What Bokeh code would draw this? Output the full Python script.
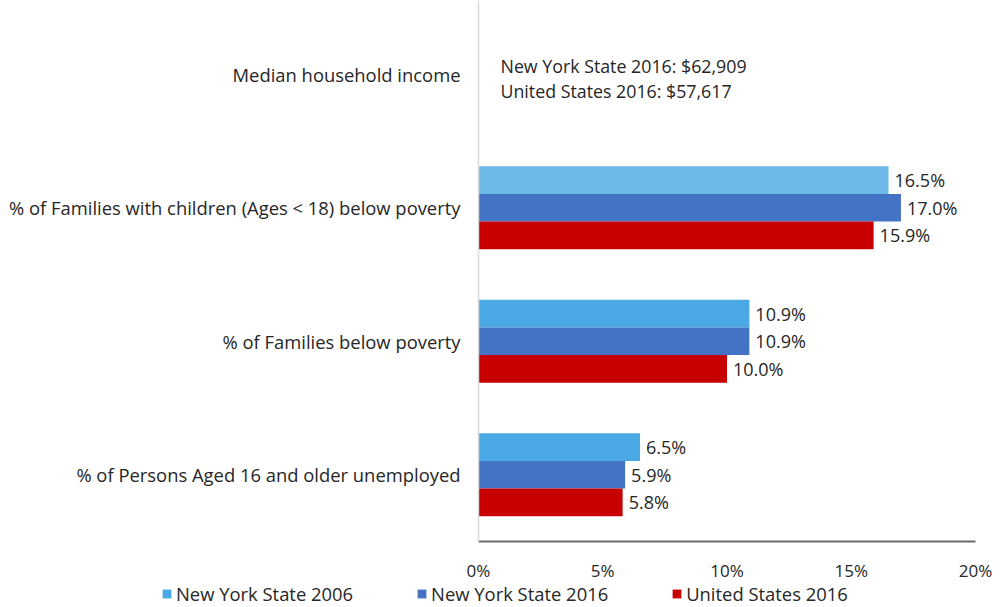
from bokeh.plotting import figure
from bokeh.models import (ColumnDataSource, Legend, LegendItem, FixedTicker,
                          CustomJSTickFormatter, Range1d)
from bokeh.core.properties import value
from bokeh.embed import file_html
from bokeh.resources import INLINE

# ---------------- data ----------------
categories_top_to_bottom = [
    "Median household income",
    "% of Families with children (Ages < 18) below poverty",
    "% of Families below poverty",
    "% of Persons Aged 16 and older unemployed",
]
bar_categories = [
    "% of Families with children (Ages < 18) below poverty",
    "% of Families below poverty",
    "% of Persons Aged 16 and older unemployed",
]
series_names = ["New York State 2006", "New York State 2016", "United States 2016"]
nys_2006 = [16.5, 10.9, 6.5]
nys_2016 = [17.0, 10.9, 5.9]
us_2016 = [15.9, 10.0, 5.8]
income_notes = ["New York State 2016: $62,909", "United States 2016: $57,617"]
x_ticks = [0, 5, 10, 15, 20]

# ---------------- styles / geometry ----------------
FONT = "Open Sans"
TXT = "#262626"
c2006 = ["#6cb9e8", "#4aa8e4", "#4aa8e4"]
c2006_legend = "#4aa8e4"
c_nys16 = "#4472c4"
c_us16 = "#c80000"

W, H = 1005, 607
plot_left, plot_right = 478, 975        # pixel span of the 0..20 % scale
plot_top, plot_bottom = 7, 541          # pixel span of the category band
n = len(categories_top_to_bottom)
xmin, xmax = x_ticks[0], x_ticks[-1]
ppx = (plot_right - plot_left) / (xmax - xmin)
ppy = (plot_bottom - plot_top) / n
x_range = Range1d(xmin - plot_left / ppx, xmax + (W - plot_right) / ppx)
y_lo, y_hi = -0.5, n - 0.5
y_range = Range1d(y_lo - (H - plot_bottom) / ppy, y_hi + plot_top / ppy)

# category -> numeric row position (top row = highest)
pos = {c: n - 1 - i for i, c in enumerate(categories_top_to_bottom)}

p = figure(width=W, height=H, x_range=x_range, y_range=y_range,
           output_backend="svg", toolbar_location=None,
           min_border=0)
p.outline_line_color = None
p.grid.grid_line_color = None
p.background_fill_color = "white"

bh = 0.207
ys = [pos[c] for c in bar_categories]
src = ColumnDataSource(dict(
    y_a=[y + bh for y in ys], y_b=ys, y_c=[y - bh for y in ys],
    a=nys_2006, b=nys_2016, c=us_2016,
    ca=c2006,
    la=[f"{v:.1f}%" for v in nys_2006],
    lb=[f"{v:.1f}%" for v in nys_2016],
    lc=[f"{v:.1f}%" for v in us_2016],
))

r1 = p.hbar(y="y_a", right="a", left=0, height=bh, source=src, fill_color="ca", line_color=None)
r2 = p.hbar(y="y_b", right="b", left=0, height=bh, source=src, fill_color=c_nys16, line_color=None)
r3 = p.hbar(y="y_c", right="c", left=0, height=bh, source=src, fill_color=c_us16, line_color=None)

for col, lab, yc in (("a", "la", "y_a"), ("b", "lb", "y_b"), ("c", "lc", "y_c")):
    p.text(x=col, y=yc, text=lab, source=src,
           x_offset=6, text_align="left", text_baseline="middle",
           text_font=value(FONT), text_font_size="18px", text_color=TXT)

# income annotation
ymed = pos[categories_top_to_bottom[0]]
p.text(x=[0], y=[ymed], text=[income_notes[0]],
       x_offset=22, y_offset=-8, text_align="left", text_baseline="middle",
       text_font=value(FONT), text_font_size="17.8px", text_color=TXT)
p.text(x=[0], y=[ymed], text=[income_notes[1]],
       x_offset=22, y_offset=17, text_align="left", text_baseline="middle",
       text_font=value(FONT), text_font_size="17.8px", text_color=TXT)

# x axis: drawn at the bottom of the category band
xa = p.xaxis[0]
xa.fixed_location = y_lo
xa.bounds = (xmin, xmax)
xa.ticker = FixedTicker(ticks=x_ticks)
xa.formatter = CustomJSTickFormatter(code="return tick + '%';")
xa.axis_line_color = "#6b6b6b"
xa.axis_line_width = 2
xa.major_tick_line_color = None
xa.minor_tick_line_color = None
xa.major_tick_out = 0
xa.major_tick_in = 0
xa.major_label_standoff = 17
xa.major_label_text_font = FONT
xa.major_label_text_font_size = "17px"
xa.major_label_text_color = TXT

# y axis: category labels at x = 0
ya = p.yaxis[0]
ya.fixed_location = 0
ya.bounds = (y_lo, y_hi + plot_top / ppy)
ya.ticker = FixedTicker(ticks=sorted(pos.values()))
ya.major_label_overrides = {v: k for k, v in pos.items()}
ya.axis_line_color = "#d9d9d9"
ya.axis_line_width = 1.5
ya.major_tick_line_color = None
ya.minor_tick_line_color = None
ya.major_tick_out = 0
ya.major_tick_in = 0
ya.major_label_standoff = 18
ya.major_label_text_font = FONT
ya.major_label_text_font_size = "18.4px"
ya.major_label_text_color = TXT

# ---------------- legend ----------------
d1 = p.hbar(y=[0], right=[0], left=[0], height=0, fill_color=c2006_legend, line_color=None)
d2 = p.hbar(y=[0], right=[0], left=[0], height=0, fill_color=c_nys16, line_color=None)
d3 = p.hbar(y=[0], right=[0], left=[0], height=0, fill_color=c_us16, line_color=None)

lg = Legend(items=[LegendItem(label=series_names[0], renderers=[d1]),
                   LegendItem(label=series_names[1], renderers=[d2]),
                   LegendItem(label=series_names[2], renderers=[d3])],
            location=(161, 1), orientation="horizontal",
            glyph_width=11, glyph_height=11, label_standoff=4,
            padding=0, margin=0, spacing=63, border_line_color=None,
            background_fill_alpha=0, label_height=18,
            label_text_font=FONT, label_text_font_size="18.4px",
            label_text_color=TXT)
p.add_layout(lg, "center")

open("out.html", "w").write(file_html(p, INLINE))
